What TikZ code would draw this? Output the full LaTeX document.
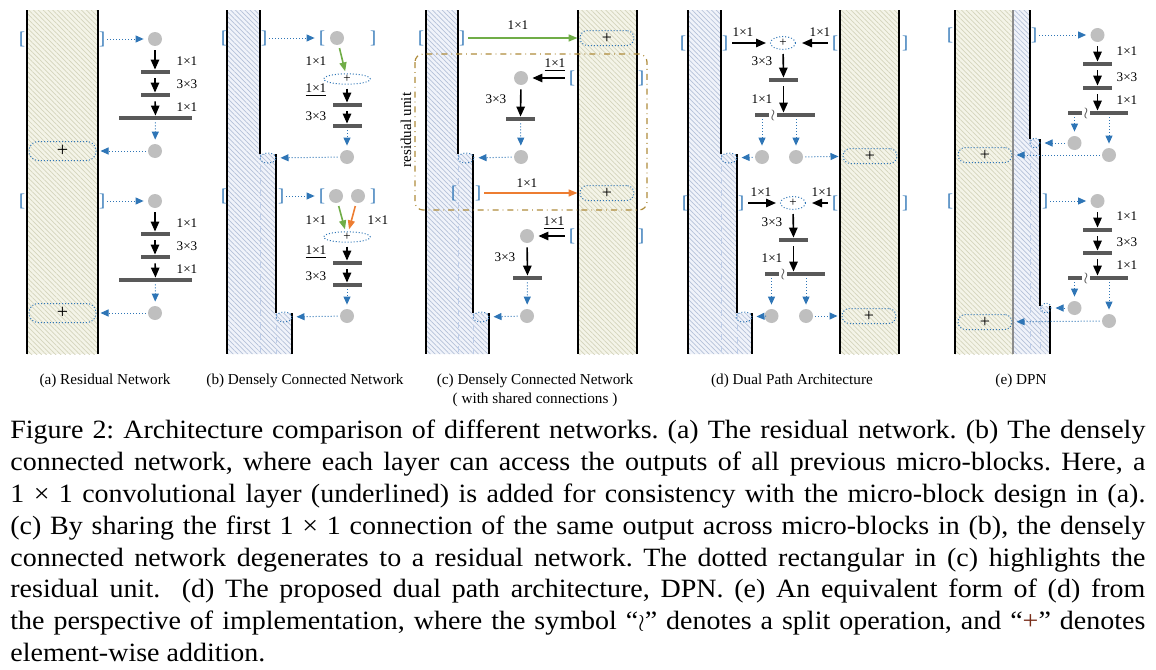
\documentclass[tikz,border=0pt]{standalone}
\usepackage{fontspec}
\setmainfont{Liberation Serif}
\newfontfamily\capfont{Liberation Serif}[FakeStretch=1.06]
\usetikzlibrary{arrows.meta,shapes.geometric,patterns.meta}

\definecolor{cblue}{RGB}{46,117,182}
\definecolor{cgreen}{RGB}{112,173,71}
\definecolor{corange}{RGB}{237,125,49}
\definecolor{colive}{RGB}{175,140,60}
\definecolor{cbar}{RGB}{89,89,89}
\definecolor{cdot}{RGB}{191,191,191}
\definecolor{cbeige}{RGB}{244,244,232}
\definecolor{cbeigeline}{RGB}{212,212,188}
\definecolor{cpale}{RGB}{240,243,250}
\definecolor{cpaleline}{RGB}{180,193,216}
\definecolor{cfaint}{RGB}{190,205,232}
\definecolor{cplus}{RGB}{120,45,25}

\tikzset{
  rail/.style={line width=1pt},
  midrail/.style={line width=1pt, draw=black!45},
  beigecol/.style={fill=cbeige, postaction={pattern={Lines[angle=-45,distance=1.7pt,line width=0.35pt]}, pattern color=cbeigeline}},
  palecol/.style={fill=cpale, postaction={pattern={Lines[angle=-45,distance=1.7pt,line width=0.35pt]}, pattern color=cpaleline}},
  oldedge/.style={draw=cfaint, dashed, line width=0.5pt},
  graydot/.style={circle, fill=cdot, minimum size=7pt, inner sep=0pt},
  convbar/.style={fill=cbar, minimum width=14.5pt, minimum height=2pt, inner sep=0pt},
  widebar/.style={convbar, minimum width=36.5pt},
  shortbar/.style={convbar, minimum width=7pt},
  splitbar/.style={convbar, minimum width=19pt},
  sumbox/.style={draw=cblue, densely dotted, line width=0.5pt, rounded corners=4.5pt, minimum width=33.5pt, minimum height=9.5pt, inner sep=0pt, font=\fontsize{10}{10}\selectfont},
  narrow/.style={minimum width=27pt, minimum height=7.5pt, rounded corners=3.7pt, font=\fontsize{9}{9}\selectfont},
  sumell/.style={ellipse, draw=cblue, densely dotted, line width=0.5pt, minimum width=23.5pt, minimum height=5pt, inner sep=0pt, font=\fontsize{6.5}{6.5}\selectfont},
  tinyell/.style={ellipse, draw=cblue, densely dotted, line width=0.5pt, minimum width=8pt, minimum height=5pt, inner sep=0pt},
  tinycirc/.style={circle, draw=cblue, densely dotted, line width=0.5pt, minimum size=5pt, inner sep=0pt},
  sz/.style={font=\fontsize{6.6}{7}\selectfont, inner sep=0pt},
  wreath/.style={text=cbar, font=\fontsize{8.5}{8.5}\selectfont, inner sep=0pt},
  brk/.style={text=cblue, font=\fontsize{9}{9}\selectfont, inner sep=0pt},
  subcap/.style={font=\fontsize{7.6}{9.5}\selectfont, inner sep=0pt},
  blink/.style={draw=cblue, densely dotted, line width=0.5pt, -{Triangle[length=4pt,width=3.5pt]}, shorten <=1pt, shorten >=2pt},
  karrow/.style={line width=0.8pt, -{Triangle[length=5pt,width=4.2pt]}, shorten <=2pt},
  garrow/.style={draw=cgreen, line width=0.8pt, -{Triangle[length=4.5pt,width=3.5pt]}, shorten <=1.5pt, shorten >=1pt},
  oarrow/.style={garrow, draw=corange},
  resbox/.style={draw=colive, dash dot, line width=0.6pt, rounded corners=4pt},
}

\begin{document}
\begin{tikzpicture}[x=0.5pt,y=-0.5pt]
        \useasboundingbox (0,0) rectangle (1156,669);

        % (a) residual network
        \fill[beigecol] (27,10) rectangle (98,354);
        \draw[rail] (27,10) -- (27,354);
        \draw[rail] (98,10) -- (98,354);

        \node[brk] (A_L1) at (22,39) {[};
        \node[brk] (A_R1) at (102,39) {]};
        \node[graydot] (A_IN1) at (155,39) {};
        \node[convbar] (A_C11) at (155,72) {};
        \node[convbar] (A_C12) at (155,95) {};
        \node[widebar] (A_C13) at (155.5,118) {};
        \node[sz] (A_T11) at (187,61) {1×1};
        \node[sz] (A_T12) at (187,84) {3×3};
        \node[sz] (A_T13) at (187,107) {1×1};
        \node[graydot] (A_OUT1) at (155,151) {};
        \node[sumbox] (A_S1) at (62.5,151) {+};
        \draw[blink] (A_R1) -- (A_IN1);
        \draw[karrow] (A_IN1) -- (A_C11);
        \draw[karrow] (A_C11) -- (A_C12);
        \draw[karrow] (A_C12) -- (A_C13);
        \draw[blink] (A_C13) -- (A_OUT1);
        \draw[blink] (A_OUT1) -- (A_S1);

        \node[brk] (A_L2) at (22,201) {[};
        \node[brk] (A_R2) at (102,201) {]};
        \node[graydot] (A_IN2) at (155,201) {};
        \node[convbar] (A_C21) at (155,234) {};
        \node[convbar] (A_C22) at (155,257) {};
        \node[widebar] (A_C23) at (155.5,280) {};
        \node[sz] (A_T21) at (187,223) {1×1};
        \node[sz] (A_T22) at (187,246) {3×3};
        \node[sz] (A_T23) at (187,269) {1×1};
        \node[graydot] (A_OUT2) at (155,313) {};
        \node[sumbox] (A_S2) at (62.5,313) {+};
        \draw[blink] (A_R2) -- (A_IN2);
        \draw[karrow] (A_IN2) -- (A_C21);
        \draw[karrow] (A_C21) -- (A_C22);
        \draw[karrow] (A_C22) -- (A_C23);
        \draw[blink] (A_C23) -- (A_OUT2);
        \draw[blink] (A_OUT2) -- (A_S2);

        % (b) densely connected network
        \fill[palecol] (227,10) -- (260,10) -- (260,154) -- (276,154) -- (276,313) -- (292,313) -- (292,354) -- (227,354) -- cycle;
        \draw[oldedge] (260,154) -- (260,354);
        \draw[oldedge] (276,313) -- (276,354);
        \draw[rail] (227,10) -- (227,354);
        \draw[rail] (260,10) -- (260,154);
        \draw[rail] (276,154) -- (276,313);
        \draw[rail] (292,313) -- (292,354);

        \node[brk] (B_L1) at (224,38) {[};
        \node[brk] (B_R1) at (264,38) {]};
        \node[brk] (B_L1b) at (322,38) {[};
        \node[graydot] (B_IN1) at (337,38) {};
        \node[brk] (B_R1b) at (373,38) {]};
        \node[sz] (B_T11) at (316,61) {1×1};
        \node[sumell] (B_E1) at (347,79) {+};
        \node[sz] (B_T12) at (316,90) {\underline{1×1}};
        \node[convbar] (B_C11) at (347,105) {};
        \node[sz] (B_T13) at (316,116) {3×3};
        \node[convbar] (B_C12) at (347,126) {};
        \node[graydot] (B_OUT1) at (347,157) {};
        \node[tinyell] (B_M1) at (268,158) {};
        \draw[blink] (B_R1) -- (B_L1b);
        \draw[garrow] (B_IN1) -- (B_E1);
        \draw[karrow] (B_E1) -- (B_C11);
        \draw[karrow] (B_C11) -- (B_C12);
        \draw[blink] (B_C12) -- (B_OUT1);
        \draw[blink] (B_OUT1) -- (B_M1);

        \node[brk] (B_L2) at (224,196) {[};
        \node[brk] (B_R2) at (281,196) {]};
        \node[brk] (B_L2b) at (322,196) {[};
        \node[graydot] (B_IN2) at (336,196) {};
        \node[graydot] (B_IN2b) at (358,196) {};
        \node[brk] (B_R2b) at (373,196) {]};
        \node[sz] (B_T21) at (316,220) {1×1};
        \node[sz] (B_T22) at (378,220) {1×1};
        \node[sumell] (B_E2) at (347,237) {+};
        \node[sz] (B_T23) at (316,252) {\underline{1×1}};
        \node[convbar] (B_C21) at (347,263) {};
        \node[sz] (B_T24) at (316,276) {3×3};
        \node[convbar] (B_C22) at (347,285) {};
        \node[graydot] (B_OUT2) at (347,316) {};
        \node[tinyell] (B_M2) at (284,317) {};
        \draw[blink] (B_R2) -- (B_L2b);
        \draw[garrow] (B_IN2) -- (B_E2);
        \draw[oarrow] (B_IN2b) -- (B_E2);
        \draw[karrow] (B_E2) -- (B_C21);
        \draw[karrow] (B_C21) -- (B_C22);
        \draw[blink] (B_C22) -- (B_OUT2);
        \draw[blink] (B_OUT2) -- (B_M2);

        % (c) densely connected network, shared connections
        \fill[palecol] (426,10) -- (458,10) -- (458,154) -- (473,154) -- (473,313) -- (489,313) -- (489,354) -- (426,354) -- cycle;
        \fill[beigecol] (578,10) rectangle (637,354);
        \draw[oldedge] (458,154) -- (458,354);
        \draw[oldedge] (473,313) -- (473,354);
        \draw[rail] (426,10) -- (426,354);
        \draw[rail] (458,10) -- (458,154);
        \draw[rail] (473,154) -- (473,313);
        \draw[rail] (489,313) -- (489,354);
        \draw[rail] (578,10) -- (578,354);
        \draw[rail] (637,10) -- (637,354);

        \draw[resbox] (415,54) rectangle (647,210);
        \node[rotate=90, font=\fontsize{7.5}{7.5}\selectfont, inner sep=0pt] (C_RU) at (406,130) {residual unit};

        \node[brk] (C_L0) at (421,38) {[};
        \node[brk] (C_R0) at (462,38) {]};
        \node[sz] (C_T0) at (518,25) {1×1};
        \node[sumbox, narrow] (C_S0) at (607,38) {+};
        \draw[garrow] (C_R0) -- (C_S0);

        \node[sz] (C_T1) at (555,65) {\underline{1×1}};
        \node[brk] (C_L1) at (572,78) {[};
        \node[brk] (C_R1) at (641,78) {]};
        \node[graydot] (C_IN1) at (521,78) {};
        \node[sz] (C_T2) at (496,99) {3×3};
        \node[convbar] (C_C1) at (520.5,119) {};
        \node[graydot] (C_OUT1) at (521,157) {};
        \node[tinyell] (C_M1) at (466,158) {};
        \draw[karrow, shorten >=2pt] (C_L1) -- (C_IN1);
        \draw[karrow] (C_IN1) -- (C_C1);
        \draw[blink] (C_C1) -- (C_OUT1);
        \draw[blink] (C_OUT1) -- (C_M1);

        \node[brk] (C_L2) at (454,193) {[};
        \node[brk] (C_R2) at (478,193) {]};
        \node[sz] (C_T3) at (527,183) {1×1};
        \node[sumbox, narrow] (C_S2) at (607,193) {+};
        \draw[oarrow] (C_R2) -- (C_S2);

        \node[sz] (C_T4) at (554,223) {\underline{1×1}};
        \node[brk] (C_L3) at (572,236) {[};
        \node[brk] (C_R3) at (641,236) {]};
        \node[graydot] (C_IN3) at (527,236) {};
        \node[sz] (C_T5) at (505,257) {3×3};
        \node[convbar] (C_C3) at (527.5,278) {};
        \node[graydot] (C_OUT3) at (527,316) {};
        \node[tinyell] (C_M3) at (481,317) {};
        \draw[karrow, shorten >=2pt] (C_L3) -- (C_IN3);
        \draw[karrow] (C_IN3) -- (C_C3);
        \draw[blink] (C_C3) -- (C_OUT3);
        \draw[blink] (C_OUT3) -- (C_M3);

        % (d) dual path architecture
        \fill[palecol] (688,10) -- (721,10) -- (721,154) -- (737,154) -- (737,313) -- (752,313) -- (752,354) -- (688,354) -- cycle;
        \fill[beigecol] (840,10) rectangle (899,354);
        \draw[oldedge] (721,154) -- (721,354);
        \draw[oldedge] (737,313) -- (737,354);
        \draw[rail] (688,10) -- (688,354);
        \draw[rail] (721,10) -- (721,154);
        \draw[rail] (737,154) -- (737,313);
        \draw[rail] (752,313) -- (752,354);
        \draw[rail] (840,10) -- (840,354);
        \draw[rail] (899,10) -- (899,354);

        \node[brk] (D_L1) at (683,43) {[};
        \node[brk] (D_R1) at (725,43) {]};
        \node[brk] (D_L1b) at (835,43) {[};
        \node[brk] (D_R1b) at (905,43) {]};
        \node[sumell, minimum width=12.5pt, minimum height=6.5pt] (D_E1) at (783,43) {+};
        \node[sz] (D_T11) at (743,32) {1×1};
        \node[sz] (D_T12) at (820,32) {1×1};
        \node[sz] (D_T13) at (762,61) {3×3};
        \node[convbar] (D_C11) at (783.5,80) {};
        \node[sz] (D_T14) at (762,99) {1×1};
        \node[shortbar] (D_P1) at (762,115) {};
        \node[wreath] (D_W1) at (773,115) {$\wr$};
        \node[splitbar] (D_Q1) at (796,115) {};
        \node[graydot] (D_O1) at (762,157) {};
        \node[graydot] (D_O1b) at (796,157) {};
        \node[tinyell] (D_M1) at (729,158) {};
        \node[sumbox, narrow] (D_S1) at (870,156) {+};
        \draw[karrow, shorten >=2pt] (D_R1) -- (D_E1);
        \draw[karrow, shorten >=3pt] (D_L1b) -- (D_E1);
        \draw[karrow] (D_E1) -- (D_C11);
        \draw[karrow] (D_C11) -- (D_C11 |- D_Q1.north);
        \draw[blink] (D_P1) -- (D_O1);
        \draw[blink] (D_Q1) -- (D_O1b);
        \draw[blink] (D_O1) -- (D_M1);
        \draw[blink] (D_O1b) -- (D_S1);

        \node[brk] (D_L2) at (685,203) {[};
        \node[brk] (D_R2) at (741,203) {]};
        \node[brk] (D_L2b) at (835,203) {[};
        \node[brk] (D_R2b) at (905,203) {]};
        \node[sumell, minimum width=12.5pt, minimum height=6.5pt] (D_E2) at (793,203) {+};
        \node[sz] (D_T21) at (761,192) {1×1};
        \node[sz] (D_T22) at (822,192) {1×1};
        \node[sz] (D_T23) at (772,222) {3×3};
        \node[convbar] (D_C21) at (793.5,240) {};
        \node[sz] (D_T24) at (772,258) {1×1};
        \node[shortbar] (D_P2) at (771.5,274) {};
        \node[wreath] (D_W2) at (783,274) {$\wr$};
        \node[splitbar] (D_Q2) at (806,274) {};
        \node[graydot] (D_O2) at (771.5,316) {};
        \node[graydot] (D_O2b) at (806,316) {};
        \node[tinyell] (D_M2) at (744,317) {};
        \node[sumbox, narrow] (D_S2) at (869,316) {+};
        \draw[karrow, shorten >=2pt] (D_R2) -- (D_E2);
        \draw[karrow, shorten >=3pt] (D_L2b) -- (D_E2);
        \draw[karrow] (D_E2) -- (D_C21);
        \draw[karrow] (D_C21) -- (D_C21 |- D_Q2.north);
        \draw[blink] (D_P2) -- (D_O2);
        \draw[blink] (D_Q2) -- (D_O2b);
        \draw[blink] (D_O2) -- (D_M2);
        \draw[blink] (D_O2b) -- (D_S2);

        % (e) DPN
        \fill[beigecol] (955,10) rectangle (1013,354);
        \fill[palecol] (1013,10) -- (1030,10) -- (1030,139) -- (1040,139) -- (1040,306) -- (1050,306) -- (1050,354) -- (1013,354) -- cycle;
        \draw[oldedge] (1030,139) -- (1030,354);
        \draw[oldedge] (1040,306) -- (1040,354);
        \draw[midrail] (1013,10) -- (1013,354);
        \draw[rail] (955,10) -- (955,354);
        \draw[rail] (1030,10) -- (1030,139);
        \draw[rail] (1040,139) -- (1040,306);
        \draw[rail] (1050,306) -- (1050,354);

        \node[brk] (E_L1) at (950,35) {[};
        \node[brk] (E_R1) at (1034,35) {]};
        \node[graydot] (E_IN1) at (1097.5,35) {};
        \node[convbar] (E_C11) at (1097.5,64) {};
        \node[convbar] (E_C12) at (1097.5,88) {};
        \node[shortbar] (E_P1) at (1074.5,113) {};
        \node[wreath] (E_W1) at (1086,113) {$\wr$};
        \node[splitbar] (E_Q1) at (1109,113) {};
        \node[sz] (E_T11) at (1127,51) {1×1};
        \node[sz] (E_T12) at (1127,77) {3×3};
        \node[sz] (E_T13) at (1127,100) {1×1};
        \node[graydot] (E_O1) at (1074.5,143) {};
        \node[graydot] (E_O1b) at (1109,155) {};
        \node[tinycirc] (E_M1) at (1035,143) {};
        \node[sumbox, narrow] (E_S1) at (985,155) {+};
        \draw[blink] (E_R1) -- (E_IN1);
        \draw[karrow] (E_IN1) -- (E_C11);
        \draw[karrow] (E_C11) -- (E_C12);
        \draw[karrow] (E_C12) -- (E_C12 |- E_Q1.north);
        \draw[blink] (E_P1) -- (E_O1);
        \draw[blink] (E_Q1) -- (E_O1b);
        \draw[blink] (E_O1) -- (E_M1);
        \draw[blink] (E_O1b) -- (E_S1);

        \node[brk] (E_L2) at (950,201) {[};
        \node[brk] (E_R2) at (1045,201) {]};
        \node[graydot] (E_IN2) at (1097.5,201) {};
        \node[convbar] (E_C21) at (1097.5,230) {};
        \node[convbar] (E_C22) at (1097.5,253) {};
        \node[shortbar] (E_P2) at (1074.5,278) {};
        \node[wreath] (E_W2) at (1086,278) {$\wr$};
        \node[splitbar] (E_Q2) at (1109,278) {};
        \node[sz] (E_T21) at (1127,216) {1×1};
        \node[sz] (E_T22) at (1127,242) {3×3};
        \node[sz] (E_T23) at (1127,265) {1×1};
        \node[graydot] (E_O2) at (1074.5,308) {};
        \node[graydot] (E_O2b) at (1109,321) {};
        \node[tinycirc] (E_M2) at (1046,308) {};
        \node[sumbox, narrow] (E_S2) at (985,322) {+};
        \draw[blink] (E_R2) -- (E_IN2);
        \draw[karrow] (E_IN2) -- (E_C21);
        \draw[karrow] (E_C21) -- (E_C22);
        \draw[karrow] (E_C22) -- (E_C22 |- E_Q2.north);
        \draw[blink] (E_P2) -- (E_O2);
        \draw[blink] (E_Q2) -- (E_O2b);
        \draw[blink] (E_O2) -- (E_M2);
        \draw[blink] (E_O2b) -- (E_S2);

        % sub-captions
        \node[subcap] (CAP_A) at (105,381) {(a) Residual Network};
        \node[subcap] (CAP_B) at (305,381) {(b) Densely Connected Network};
        \node[subcap, align=center] (CAP_C) at (535,390) {(c) Densely Connected Network\\( with shared connections )};
        \node[subcap] (CAP_D) at (792,381) {(d) Dual Path Architecture};
        \node[subcap] (CAP_E) at (1021,381) {(e) DPN};

        % figure caption
        \node[anchor=north west, inner sep=0pt, text width=567.5pt, align=justify,
              font=\capfont\fontsize{13.2}{15.9}\selectfont] (CAP) at (10,420) {%
            \frenchspacing\hyphenpenalty=10000\exhyphenpenalty=10000
            Figure 2: Architecture comparison of different networks. (a) The residual network. (b) The densely\linebreak
            connected network, where each layer can access the outputs of all previous micro-blocks. Here, a\linebreak
            1~×~1 convolutional layer (underlined) is added for consistency with the micro-block design in (a).\linebreak
            (c) By sharing the first 1~×~1 connection of the same output across micro-blocks in (b), the densely\linebreak
            connected network degenerates to a residual network. The dotted rectangular in (c) highlights the\linebreak
            residual unit.\ \ (d) The proposed dual path architecture, DPN. (e) An equivalent form of (d) from\linebreak
            the perspective of implementation, where the symbol “$\wr$” denotes a split operation, and “{\color{cplus}+}” denotes\linebreak
            element-wise addition.};
\end{tikzpicture}
\end{document}
